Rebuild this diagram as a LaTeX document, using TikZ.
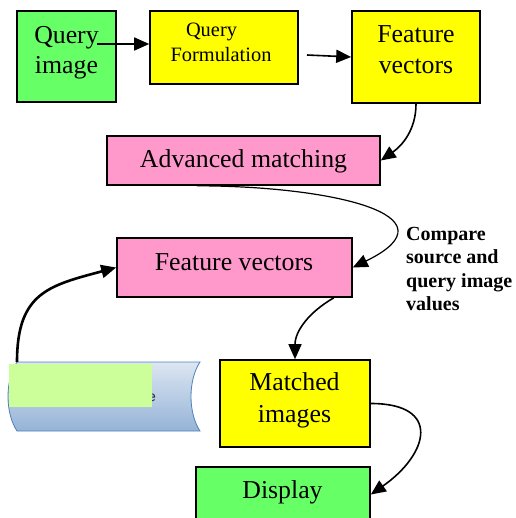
\documentclass[tikz,border=0pt]{standalone}
\usepackage{fontspec}
\setmainfont{Liberation Serif}
\newfontfamily\labelsans{Liberation Sans}
\usetikzlibrary{arrows.meta,calc}
\definecolor{qgreen}{HTML}{66FF66}
\definecolor{qyellow}{HTML}{FFFF00}
\definecolor{qpink}{HTML}{FF99CC}
\definecolor{paleleaf}{HTML}{CCFF99}
\definecolor{dbtop}{HTML}{DCE6F2}
\definecolor{dbbot}{HTML}{95B3D7}
\definecolor{dbedge}{HTML}{4F81BD}

\begin{document}
\begin{tikzpicture}[x=1pt,y=1pt,
  box/.style={draw=black, line width=1.6pt, inner sep=0pt, rectangle},
  bigtxt/.style={font=\fontsize{25.8}{30.4}\selectfont, inner sep=0pt, align=center, anchor=base},
  midtxt/.style={font=\fontsize{20.4}{24.7}\selectfont, inner sep=0pt, align=center, anchor=base},
  flow/.style={draw=black, line width=1.6pt, -{Triangle[length=15pt,width=13pt]}},
]
\useasboundingbox (0,0) rectangle (515,-518);

% boxes
\node[box, fill=qgreen,  minimum width=99pt,  minimum height=91pt] (qimg)  at (66.5,-56.5) {};
\node[box, fill=qyellow, minimum width=148pt, minimum height=73pt] (qform) at (224,-47.5) {};
\node[box, fill=qyellow, minimum width=128pt, minimum height=92pt] (fv1)   at (416,-57) {};
\node[box, fill=qpink,   minimum width=273pt, minimum height=49pt] (adv)   at (243.5,-160.5) {};
\node[box, fill=qpink,   minimum width=235pt, minimum height=59pt] (fv2)   at (234.5,-267.5) {};
\node[box, fill=qyellow, minimum width=150pt, minimum height=87pt] (mi)    at (295,-403.5) {};
\node[box, fill=qgreen,  minimum width=174pt, minimum height=55pt] (disp)  at (283,-494.5) {};

% box texts (base anchor sits on the last line)
\node[bigtxt] (qimg-t)  at (66.5,-73.7) {Query\\image};
\node[midtxt] (qform-t) at (221,-61.7) {Query\hspace*{19pt}\\Formulation};
\node[bigtxt] (fv1-t)   at (416,-73.3) {Feature\\vectors};
\node[bigtxt] (adv-t)   at (243.5,-167.3) {Advanced matching};
\node[bigtxt] (fv2-t)   at (234,-270.7) {Feature vectors};
\node[bigtxt, font=\fontsize{25.8}{32}\selectfont] (mi-t) at (294.5,-422.7) {Matched\\images};
\node[bigtxt] (disp-t)  at (282.5,-498.3) {Display};

% side note
\node[font=\fontsize{20}{23.5}\selectfont\bfseries, inner sep=0pt, align=left, anchor=base west]
  (note) at (406,-310.5) {Compare\\source and\\query image\\values};

% storage shape with its partly covered caption
\draw[dbedge, line width=0.8pt, top color=dbtop, bottom color=dbbot]
  (17,-362) -- (200,-362) .. controls (188,-380) and (188,-413) .. (200,-431)
  -- (17,-431) .. controls (5,-413) and (5,-380) .. (17,-362) -- cycle;
\coordinate (db-top) at (17,-362);
\node[font=\labelsans\fontsize{14}{16}\selectfont, text=black!85, inner sep=0pt, anchor=base west]
  (db-t) at (148,-401) {e};
\fill[paleleaf] (9,-364) rectangle (152,-407);

% connectors
\coordinate (qimg-out) at (97,-44);
\coordinate (qform-out) at (307,-55);
\draw[flow] (qimg-out) -- (qform.west |- qimg-out);
\draw[flow] (qform-out) -- (fv1.west);
\draw[flow] (fv1.south) to[out=-90,in=35] (adv.east);
\draw[flow, line width=1.2pt] ($(adv.south west)!0.33!(adv.south east)$)
  .. controls (330,-186) and (460,-215) .. (fv2.east);
\draw[flow] ($(fv2.south east)+(-19,0)$) to[out=210,in=90] (mi.north);
\draw[flow] (mi.east) to[out=0,in=35,looseness=2] (disp.east);
\draw[flow, line width=2.6pt] (db-top) to[out=90,in=195,looseness=1.3] (fv2.west);
\end{tikzpicture}
\end{document}
